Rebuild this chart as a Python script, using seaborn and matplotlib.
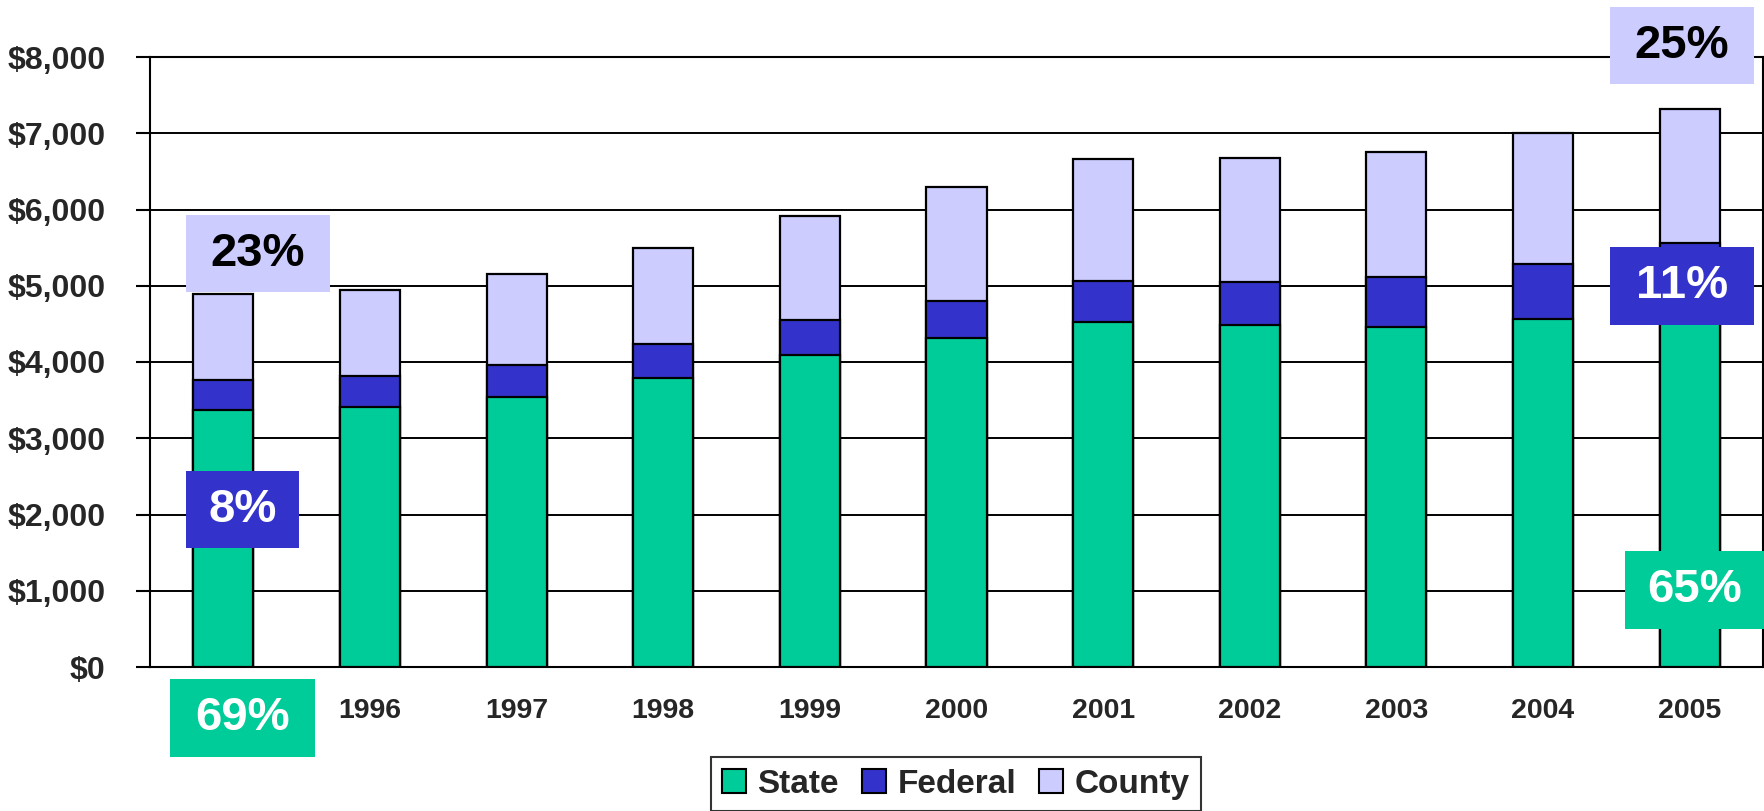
import matplotlib
matplotlib.use("Agg")
import matplotlib.pyplot as plt
from matplotlib.patches import Rectangle, Patch
import seaborn as sns
import pandas as pd
import numpy as np

years = ["1995", "1996", "1997", "1998", "1999", "2000", "2001", "2002", "2003", "2004", "2005"]
state = [3370, 3410, 3540, 3790, 4090, 4320, 4530, 4480, 4460, 4570, 4760]
federal = [400, 400, 420, 450, 460, 480, 530, 570, 660, 720, 800]
county = [1120, 1135, 1190, 1250, 1370, 1490, 1600, 1630, 1630, 1710, 1760]

series_names = ["State", "Federal", "County"]
colors = {"State": "#00CC99", "Federal": "#3333CC", "County": "#CCCCFF"}

share_labels = [
    # (text, series, side)
    ("23%", "County", "left"), ("8%", "Federal", "left"), ("69%", "State", "left"),
    ("25%", "County", "right"), ("11%", "Federal", "right"), ("65%", "State", "right"),
]

df = pd.DataFrame({"Year": years, "State": state, "Federal": federal, "County": county})
df["StateFed"] = df["State"] + df["Federal"]
df["Total"] = df["StateFed"] + df["County"]

sns.set_style("white")
plt.rcParams["font.family"] = ["Liberation Sans", "DejaVu Sans"]
plt.rcParams["font.weight"] = "bold"

W, H = 1765, 811
fig = plt.figure(figsize=(W / 100, H / 100), dpi=100)
ax = fig.add_axes([150 / W, 1 - 667 / H, (1763 - 150) / W, (667 - 57) / H])

bar_kw = dict(ax=ax, width=0.41, edgecolor="black", linewidth=1.6, saturation=1, zorder=3)
sns.barplot(data=df, x="Year", y="Total", color=colors["County"], **bar_kw)
sns.barplot(data=df, x="Year", y="StateFed", color=colors["Federal"], **bar_kw)
sns.barplot(data=df, x="Year", y="State", color=colors["State"], **bar_kw)

ax.set_xlim(-0.5, len(years) - 0.5)
ax.set_ylim(0, 8000)
ax.set_yticks(np.arange(0, 8001, 1000))
ax.set_yticklabels([f"${v:,.0f}" for v in np.arange(0, 8001, 1000)], fontsize=23, fontweight="bold")
ax.set_xticks(range(len(years)))
ax.set_xticklabels(years, fontsize=20.5, fontweight="bold")
ax.set_xticks(np.arange(-0.5, len(years), 1.0), minor=True)
ax.tick_params(axis="x", which="major", length=0, pad=22)
ax.tick_params(axis="x", which="minor", length=10, width=1.5, color="black", direction="out")
ax.tick_params(axis="y", length=10, width=1.5, color="black", direction="out", pad=22, left=True)
ax.set_xlabel("")
ax.set_ylabel("")
ax.yaxis.grid(True, color="black", linewidth=1.4)
ax.set_axisbelow(True)
for s in ["left", "bottom", "right", "top"]:
    ax.spines[s].set_visible(True)
    ax.spines[s].set_color("black")
    ax.spines[s].set_linewidth(1.5)

# The first year label sits under the 69% box in the reference (covered)
ax.get_xticklabels()[0].set_visible(False)

# Share annotation boxes (pixel geometry of the reference)
boxes = {
    ("County", "left"): (186, 215, 330, 292),
    ("Federal", "left"): (186, 471, 299, 548),
    ("State", "left"): (170, 679, 315, 757),
    ("County", "right"): (1610, 7, 1754, 84),
    ("Federal", "right"): (1610, 247, 1754, 325),
    ("State", "right"): (1625, 551, 1765, 629),
}
for text, series, side in share_labels:
    x0, y0, x1, y1 = boxes[(series, side)]
    fig.add_artist(Rectangle((x0 / W, 1 - y1 / H), (x1 - x0) / W, (y1 - y0) / H,
                             transform=fig.transFigure, facecolor=colors[series],
                             edgecolor="none", zorder=5))
    tc = "black" if series == "County" else "white"
    fig.text((x0 + x1) / 2 / W, 1 - (y0 + y1) / 2 / H, text, ha="center", va="center",
             fontsize=34, fontweight="bold", color=tc, zorder=6)

handles = [Patch(facecolor=colors[n], edgecolor="black", linewidth=1.5) for n in series_names]
leg = fig.legend(handles, series_names, loc="upper center", bbox_to_anchor=(956 / W, 1 - 757 / H),
                 bbox_transform=fig.transFigure, ncol=3, frameon=True, fancybox=False,
                 prop={"size": 24, "weight": "bold"}, handlelength=0.7, handleheight=0.7,
                 handletextpad=0.35, columnspacing=0.7, borderpad=0.35, borderaxespad=0)
leg.get_frame().set_edgecolor("black")
leg.get_frame().set_linewidth(1.5)

fig.savefig("out.png", dpi=100, facecolor="white")
